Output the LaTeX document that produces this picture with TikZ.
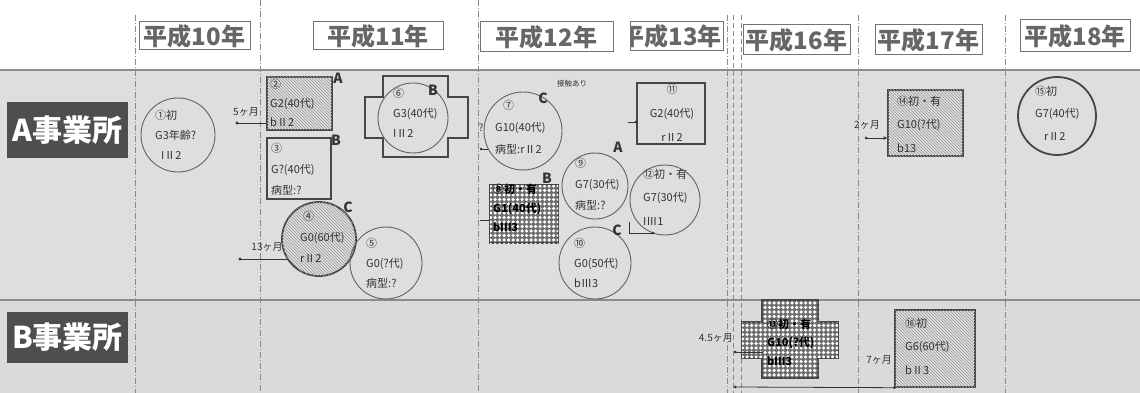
\documentclass[tikz,border=0pt]{standalone}
\usepackage{fontspec}
\setmainfont{Noto Sans CJK JP}
\usetikzlibrary{patterns,patterns.meta,arrows.meta}
\definecolor{bandA}{HTML}{DEDEDE}
\definecolor{bandB}{HTML}{DADADA}
\definecolor{ink}{HTML}{333333}
\definecolor{edge}{HTML}{464646}
\definecolor{vline}{HTML}{8A8A8A}
\definecolor{hdrtext}{HTML}{666666}
\definecolor{lblfill}{HTML}{4E4E4E}
\definecolor{dotbg}{HTML}{6E6E6E}
\tikzdeclarepattern{
  name=wdots,
  type=uncolored,
  bounding box={(-2.25pt,-2.25pt) and (2.25pt,2.25pt)},
  tile size={(4.5pt,4.5pt)},
  code={\fill (0pt,0pt) circle (1.75pt);}
}
\tikzset{
  vdash/.style={draw=vline, line width=0.8pt, dash pattern=on 6pt off 2pt on 1pt off 2pt},
  vdashb/.style={draw=vline, line width=0.8pt, dash pattern=on 5pt off 3pt},
  hdr/.style={draw=black!55, line width=1pt, fill=white, text=hdrtext, font=\fontsize{24}{26}\selectfont\bfseries, inner sep=0pt},
  rowlbl/.style={fill=lblfill, text=white, font=\fontsize{30}{32}\selectfont\bfseries, minimum width=121pt, inner sep=0pt},
  thinshape/.style={draw=edge!85, line width=0.9pt},
  medshape/.style={draw=edge, line width=1.4pt},
  thickshape/.style={draw=edge, line width=1.8pt},
  hatch/.style={fill=bandA, postaction={pattern=north west lines, pattern color=black!40}},
  wdotfill/.style={fill=dotbg, postaction={pattern=wdots, pattern color=white}},
  circ/.style={circle, inner sep=0pt, minimum size=#1},
  box/.style={rectangle, inner sep=0pt},
  txt/.style={font=\fontsize{11}{#1}\selectfont, align=left, inner sep=0pt, text=ink, anchor=west},
  txt/.default=20,
  tag/.style={font=\fontsize{14}{14}\selectfont\bfseries, text=ink, inner sep=0pt},
  conn/.style={draw=ink, line width=0.8pt},
  dur/.style={font=\fontsize{10}{10}\selectfont, text=ink, inner sep=0pt}
}
\begin{document}
\begin{tikzpicture}[x=1pt,y=-1pt]
\useasboundingbox (0,0) rectangle (1140,393);
\fill[white] (0,0) rectangle (1140,393);
\fill[bandA] (0,70) rectangle (1140,300);
\fill[bandB] (0,300) rectangle (1140,393);
\draw[black!45, line width=1.2pt] (0,70) -- (1140,70);
\draw[black!45, line width=1.2pt] (0,300) -- (1140,300);
% vertical period lines
\draw[vdash] (135,15) -- (135,393);
\draw[vdash] (260,0) -- (260,393);
\draw[vdash] (478,0) -- (478,393);
\draw[vdash] (727,15) -- (727,393);
\draw[vdashb] (733,15) -- (733,393);
\draw[vdashb] (741,15) -- (741,393);
\draw[vdash] (858,15) -- (858,393);
\draw[vdash] (1005,15) -- (1005,393);
% headers
\node[hdr, minimum width=111pt, minimum height=28pt] (h10) at (194.5,36) {平成10年};
\node[hdr, minimum width=130pt, minimum height=28pt] (h11) at (378,36) {平成11年};
\node[hdr, minimum width=133pt, minimum height=30pt] (h12) at (546.5,37) {平成12年};
\fill[white] (630,22) rectangle (723,51);
\begin{scope}
\clip (630,22) rectangle (723,51);
\node[font=\fontsize{24}{26}\selectfont\bfseries, text=hdrtext, anchor=east, inner sep=0pt] (h13) at (722,36.5) {平成13年};
\end{scope}
\draw[draw=black!55, line width=1pt] (630,22) rectangle (723,51);
\node[hdr, minimum width=107pt, minimum height=30pt] (h16) at (796.5,40) {平成16年};
\node[hdr, minimum width=107pt, minimum height=30pt] (h17) at (928.5,40) {平成17年};
\node[hdr, minimum width=110pt, minimum height=32pt] (h18) at (1075,36) {平成18年};
% row labels
\node[rowlbl, minimum height=56pt] (rA) at (67.5,130) {A事業所};
\node[rowlbl, minimum height=51pt] (rB) at (67.5,337.5) {B事業所};

% ---- A 事業所 ----
% 1
\node[circ=74pt, thinshape] (c1) at (178,135) {};
\node[txt] (c1t) at (155,135) {①初\\G3年齢?\\\hspace{6pt}IⅡ2};
% 2 box A
\node[box, thickshape, hatch, minimum width=65pt, minimum height=53pt] (bA) at (299.5,103.5) {};
\node[txt=19] (bAt) at (270,103) {②\\G2(40代)\\bⅡ2};
\node[tag] (tgA1) at (338,78) {A};
\coordinate (t5) at (237,123);
\node[dur] (l5) at (246,112) {5ヶ月};
\draw[conn] (t5) -- (t5 -| bA.west);
\fill[ink] (t5) circle (1.6);
% 3 box B
\node[box, medshape, fill=bandA, minimum width=64pt, minimum height=61pt] (bB) at (299,168.5) {};
\node[txt=21] (bBt) at (271,169) {③\\G?(40代)\\病型:?};
\node[tag] (tgB1) at (336,140) {B};
% 4 circle C
\node[circ=74pt, thickshape, hatch] (c4) at (319,239) {};
\node[txt=21] (c4t) at (300,237) {\hspace{3pt}④\\G0(60代)\\rⅡ2};
\node[tag] (tgC1) at (348,207) {C};
\coordinate (t13) at (240,259);
\node[dur] (l13) at (267,247) {13ヶ月};
\draw[conn] (t13) -- (t13 -| c4.213);
\fill[ink] (t13) circle (1.6);
% 5
\node[circ=72pt, thinshape] (c5) at (386,263) {};
\node[txt] (c5t) at (366,263) {⑤\\G0(?代)\\病型:?};
% 6 cross
\draw[thickshape, fill=bandA] (383,76) -- (448,76) -- (448,97) -- (468,97) -- (468,138) -- (448,138) -- (448,157) -- (383,157) -- (383,138) -- (365,138) -- (365,97) -- (383,97) -- cycle;
\node[circ=70pt, thinshape] (c6) at (413,118) {};
\node[txt] (c6t) at (393,113) {⑥\\G3(40代)\\IⅡ2};
\node[tag] (tgB2) at (433,90) {B};
% contact label
\node[font=\fontsize{7.5}{8}\selectfont, text=ink, inner sep=0pt] (ct) at (572,84) {接触あり};
% 7
\node[circ=78pt, thinshape] (c7) at (523,131) {};
\node[txt=22] (c7t) at (495,127) {\hspace{8pt}⑦\\G10(40代)\\病型:rⅡ2};
\node[tag] (tgC2) at (543,98) {C};
\node[dur] (q7) at (481,128) {?};
\coordinate (t7) at (481,149);
\draw[conn] (t7) -- (t7 -| c7.207);
\fill[ink] (t7) circle (1.4);
% 8 dotted box
\node[box, thickshape, wdotfill, minimum width=68pt, minimum height=58pt] (b8) at (524,214) {};
\node[txt=19, font=\fontsize{11}{19}\selectfont\bfseries, text=black] (b8t) at (493,208) {⑧初・有\\G1(40代)\\bⅢ3};
\node[tag] (tgB3) at (547,178) {B};
\coordinate (t8) at (480,220);
\draw[conn] (t8) -- (t8 -| b8.west);
% 9
\node[circ=66pt, thinshape] (c9) at (595,186) {};
\node[txt=21] (c9t) at (575,184) {⑨\\G7(30代)\\病型:?};
\node[tag] (tgA2) at (618,147) {A};
% 10
\node[circ=72pt, thinshape] (c10) at (595,263) {};
\node[txt] (c10t) at (574,263) {⑩\\G0(50代)\\bⅢ3};
\node[tag] (tgC3) at (617,230) {C};
% 11 box
\node[box, thickshape, minimum width=68pt, minimum height=61pt] (b11) at (671,113.5) {};
\node[font=\fontsize{11}{24}\selectfont, align=center, text=ink, inner sep=0pt] (b11t) at (672,113) {⑪\\G2(40代)\\rⅡ2};
\coordinate (t11) at (628,122);
\draw[conn] (t11) -- (t11 -| b11.west);
\fill[ink] (t11 -| b11.west) circle (1.4);
% 12
\node[circ=70pt, thinshape] (c12) at (665,200) {};
\node[txt=23.5] (c12t) at (643,197) {⑫初・有\\G7(30代)\\IⅢ1};
\coordinate (t12) at (629,233);
\draw[conn] (t12) ++(0,-11) -- (t12) -- (t12 -| c12.250);
\fill[ink] (t12 -| c12.250) circle (1.5);
% 14 box
\node[box, medshape, hatch, minimum width=75pt, minimum height=66pt] (b14) at (925.5,123) {};
\node[txt=23.5] (b14t) at (897,124) {⑭初・有\\G10(?代)\\b13};
\node[dur] (l2) at (867,125) {2ヶ月};
\coordinate (t2) at (866,138);
\draw[conn, -{Stealth[length=4pt,width=3.5pt]}] (t2) -- (t2 -| b14.west);
\fill[ink] (t2) circle (1.5);
% 15 circle
\node[circ=78pt, thickshape] (c15) at (1057,116) {};
\node[txt=22.5] (c15t) at (1035,113) {⑮初\\G7(40代)\\\hspace{9pt}rⅡ2};

% ---- B 事業所 ----
\draw[thickshape, wdotfill] (762,300) -- (818,300) -- (818,322) -- (838,322) -- (838,358) -- (818,358) -- (818,378) -- (762,378) -- (762,358) -- (742,358) -- (742,322) -- (762,322) -- cycle;
\coordinate (x13) at (763,352);
\node[txt=18.5, font=\fontsize{11}{18.5}\selectfont\bfseries, text=black] (x13t) at (767,342) {⑬初・有\\G10(?代)\\bⅢ3};
\node[dur, anchor=east] (l45) at (733,338) {4.5ヶ月};
\coordinate (t45) at (735,352);
\draw[conn] (t45) -- (x13);
\fill[ink] (t45) circle (1.5);
% 16 box
\node[box, medshape, hatch, minimum width=80pt, minimum height=77pt] (b16) at (935,348.5) {};
\node[txt=23.5] (b16t) at (905,346) {⑯初\\G6(60代)\\bⅡ3};
\node[dur, anchor=east] (l7) at (892,360) {7ヶ月};
\coordinate (t7m) at (735,387);
\draw[conn] (t7m) -- (b16.south west);
\fill[ink] (t7m) circle (1.5);
\fill[ink] (b16.south west) circle (1.5);
\end{tikzpicture}
\end{document}
